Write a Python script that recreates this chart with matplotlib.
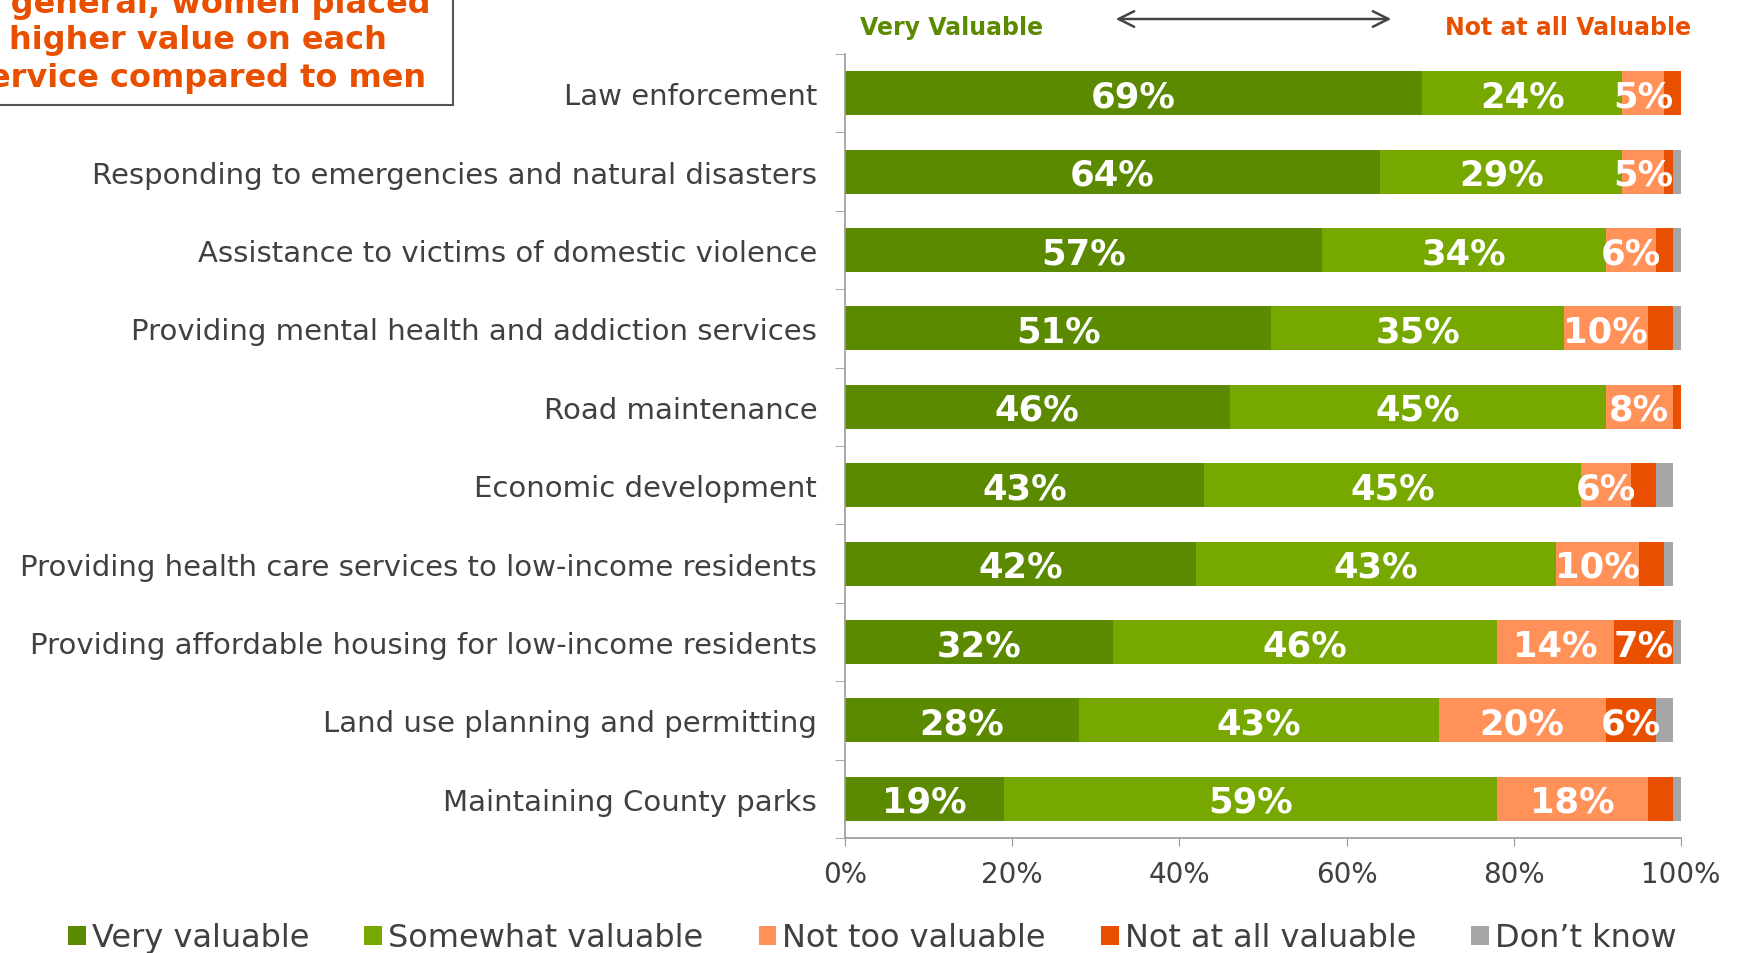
import matplotlib
matplotlib.use("Agg")
import matplotlib.pyplot as plt
import matplotlib.patches as patches
import numpy as np

# data (percent)
services = ["Law enforcement",
            "Responding to emergencies and natural disasters",
            "Assistance to victims of domestic violence",
            "Providing mental health and addiction services",
            "Road maintenance",
            "Economic development",
            "Providing health care services to low-income residents",
            "Providing affordable housing for low-income residents",
            "Land use planning and permitting",
            "Maintaining County parks"]
very_valuable = [69, 64, 57, 51, 46, 43, 42, 32, 28, 19]
somewhat_valuable = [24, 29, 34, 35, 45, 45, 43, 46, 43, 59]
not_too_valuable = [5, 5, 6, 10, 8, 6, 10, 14, 20, 18]
not_at_all_valuable = [2, 1, 2, 3, 1, 3, 3, 7, 6, 3]
dont_know = [0, 1, 1, 1, 0, 2, 1, 1, 2, 1]

series_names = ["Very valuable", "Somewhat valuable", "Not too valuable",
                "Not at all valuable", "Don\u2019t know"]
series = [very_valuable, somewhat_valuable, not_too_valuable,
          not_at_all_valuable, dont_know]
colors = ["#5B8A00", "#76A800", "#FF9159", "#E85000", "#A6A6A6"]
# which series get their value printed (not at all valuable only when big enough)
label_min = [0, 0, 0, 6, 101]

TXT = "#404040"

fig = plt.figure(figsize=(17.37, 9.54), dpi=100)
ax = fig.add_axes([845/1737, 1 - 839/954, (1681 - 845)/1737, (839 - 55)/954])

y = np.arange(len(services))
left = np.zeros(len(services))
for name, vals, col, lm in zip(series_names, series, colors, label_min):
    vals = np.array(vals, dtype=float)
    ax.barh(y, vals, left=left, height=0.56, color=col, label=name,
            edgecolor="none")
    for yi, (l, v) in enumerate(zip(left, vals)):
        if v >= lm and v > 0:
            ax.text(l + v/2, yi + 0.04, "%d%%" % v, ha="center", va="center",
                    color="white", fontsize=25.5, fontweight="bold")
    left += vals

ax.set_xlim(0, 100)
ax.set_ylim(len(services) - 0.5, -0.5)
ax.set_yticks(y)
ax.set_yticklabels(services, fontsize=21, color=TXT)
ax.set_yticks(np.arange(len(services) + 1) - 0.5, minor=True)
ax.tick_params(axis="y", which="major", length=0, pad=20)
ax.tick_params(axis="y", which="minor", length=7, color="#999999", direction="out")
ax.set_xticks([0, 20, 40, 60, 80, 100])
ax.set_xticklabels(["0%", "20%", "40%", "60%", "80%", "100%"], fontsize=20, color=TXT)
ax.tick_params(axis="x", length=6, color="#999999", pad=10)
for s in ["top", "right"]:
    ax.spines[s].set_visible(False)
for s in ["left", "bottom"]:
    ax.spines[s].set_color("#999999")
    ax.spines[s].set_linewidth(1.2)

# header over the bars
fig.text(952/1737, 1 - 28/954, "Very Valuable", color="#5B8A00", fontsize=17,
         fontweight="bold", ha="center", va="center")
fig.text(1568/1737, 1 - 28/954, "Not at all Valuable", color="#E85000", fontsize=17,
         fontweight="bold", ha="center", va="center")
fig.add_artist(patches.FancyArrowPatch((1113/1737, 1 - 20/954), (1394/1737, 1 - 20/954),
               transform=fig.transFigure, arrowstyle="<->", mutation_scale=28,
               color="#444444", linewidth=1.8))

# call-out box top left (runs off the page)
box = patches.Rectangle((-0.02, 1 - 106/954), (453 + 35)/1737, 0.2,
                        transform=fig.transFigure, fill=False,
                        edgecolor="#555555", linewidth=1.5)
fig.add_artist(box)
for txt, yy in [("In general, women placed", 4), ("higher value on each", 41),
                ("service compared to men", 78)]:
    fig.text(198/1737, 1 - yy/954, txt, color="#E85000", fontsize=23,
             fontweight="bold", ha="center", va="center")

# legend
fig.legend(loc="center left", bbox_to_anchor=(52/1737, 1 - 939/954), ncol=5,
           frameon=False, fontsize=23, handlelength=0.55, handleheight=0.55,
           handletextpad=0.2, columnspacing=1.72, borderpad=0, labelcolor=TXT)

fig.savefig("out.png", dpi=100)
